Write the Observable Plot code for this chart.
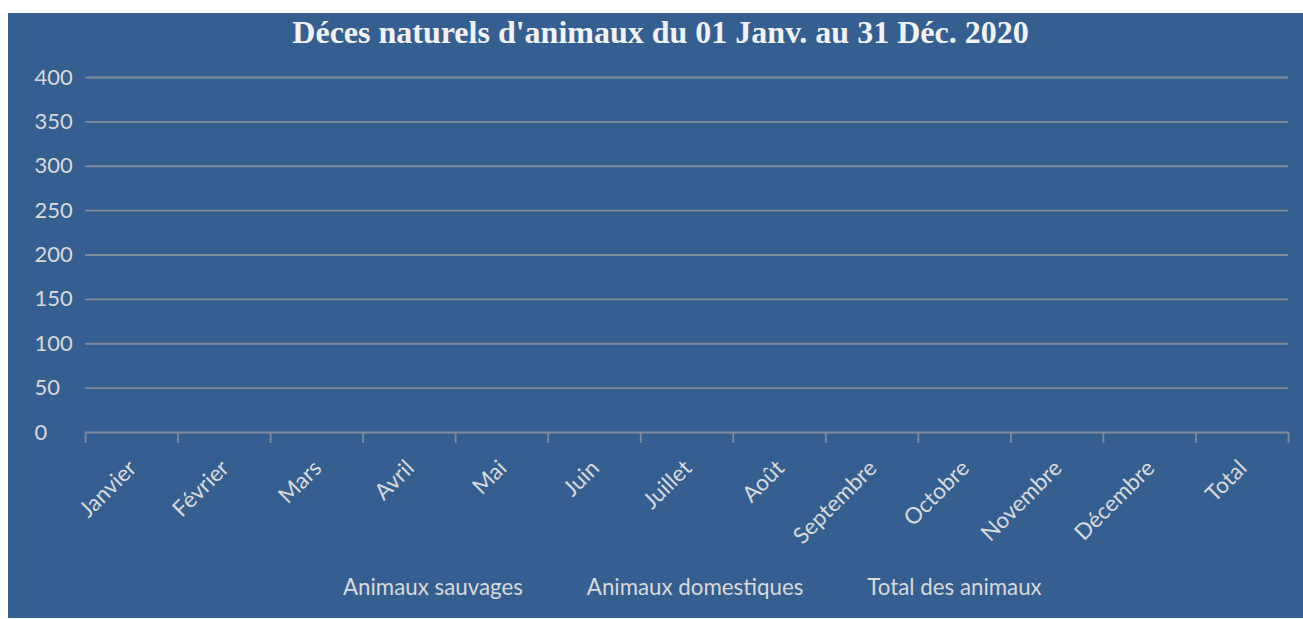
<!DOCTYPE html>
<html>
<head>
<meta charset="utf-8">
<script src="https://cdn.jsdelivr.net/npm/d3@7"></script>
<script src="https://cdn.jsdelivr.net/npm/@observablehq/plot@0.6"></script>
<style>
  html, body { margin: 0; padding: 0; background: #ffffff; }
  #frame { position: absolute; left: 8px; top: 13px; width: 1295px; height: 605px; background: #365F91; overflow: hidden; }
  #title { position: absolute; left: 0; top: 0; width: 1295px; height: 50px; text-align: center; font-family: "Liberation Serif", "DejaVu Serif", serif; font-weight: bold; font-size: 32px; line-height: 38px; color: #f2f2f2; padding-left: 10px; box-sizing: border-box; }
  #chart { position: absolute; left: 0; top: 50px; }
  #legend { position: absolute; left: 335px; top: 560px; display: flex; gap: 64px; font-family: Lato, "Open Sans", sans-serif; font-size: 22.3px; color: #d9d9d9; }
</style>
</head>
<body>
<div id="frame">
  <div id="title">Déces naturels d'animaux du 01 Janv. au 31 Déc. 2020</div>
  <div id="chart"></div>
  <div id="legend"></div>
</div>
<script>
const categories = ["Janvier", "Février", "Mars", "Avril", "Mai", "Juin", "Juillet", "Août", "Septembre", "Octobre", "Novembre", "Décembre", "Total"];
const seriesNames = ["Animaux sauvages", "Animaux domestiques", "Total des animaux"];
// The reference chart shows no bars: every value is empty.
const animauxSauvages = [null, null, null, null, null, null, null, null, null, null, null, null, null];
const animauxDomestiques = [null, null, null, null, null, null, null, null, null, null, null, null, null];
const totalAnimaux = [null, null, null, null, null, null, null, null, null, null, null, null, null];
const yTicks = [0, 50, 100, 150, 200, 250, 300, 350, 400];

const seriesValues = [animauxSauvages, animauxDomestiques, totalAnimaux];
const rows = [];
seriesNames.forEach((s, i) => categories.forEach((c, j) => rows.push({category: c, series: s, value: seriesValues[i][j]})));

const W = 1295, H = 490, mL = 77, mR = 15;
const band = (W - mL - mR) / categories.length;
const textColor = "#d9d9d9";
const gridColor = "#7f8a9b";

const chart = Plot.plot({
  width: W,
  height: H,
  marginLeft: mL,
  marginRight: mR,
  marginTop: 14,
  marginBottom: 121,
  style: {background: "transparent", color: textColor, fontFamily: "Lato, 'Open Sans', sans-serif", fontSize: "22px", overflow: "visible"},
  x: {domain: categories, padding: 0, round: false},
  y: {domain: [0, 400], ticks: yTicks},
  color: {domain: seriesNames, range: ["#4f81bd", "#c0504d", "#9bbb59"]},
  marks: [
    Plot.gridY(yTicks.filter(d => d > 0), {stroke: gridColor, strokeOpacity: 1, strokeWidth: 1.8}),
    Plot.axisY({ticks: yTicks, tickSize: 0, tickPadding: 51, textAnchor: "start", fill: textColor, fontSize: 22, label: null}),
    Plot.ruleY([0], {stroke: gridColor, strokeWidth: 1.8}),
    Plot.axisX({tickSize: 11, text: null, stroke: gridColor, strokeWidth: 1.8, dx: -band / 2, label: null}),
    Plot.axisX({ticks: [categories[categories.length - 1]], tickSize: 11, text: null, stroke: gridColor, strokeWidth: 1.8, dx: band / 2, label: null}),
    Plot.axisX({tickSize: 0, tickRotate: -45, tickPadding: 32, dx: 1, fill: textColor, fontSize: 22.5, label: null}),
    Plot.barY(rows.filter(d => d.value != null), {x: "category", y: "value", fill: "series"})
  ]
});
document.getElementById("chart").appendChild(chart);

const legend = document.getElementById("legend");
seriesNames.forEach(s => {
  const span = document.createElement("span");
  span.textContent = s;
  legend.appendChild(span);
});
</script>
</body>
</html>
